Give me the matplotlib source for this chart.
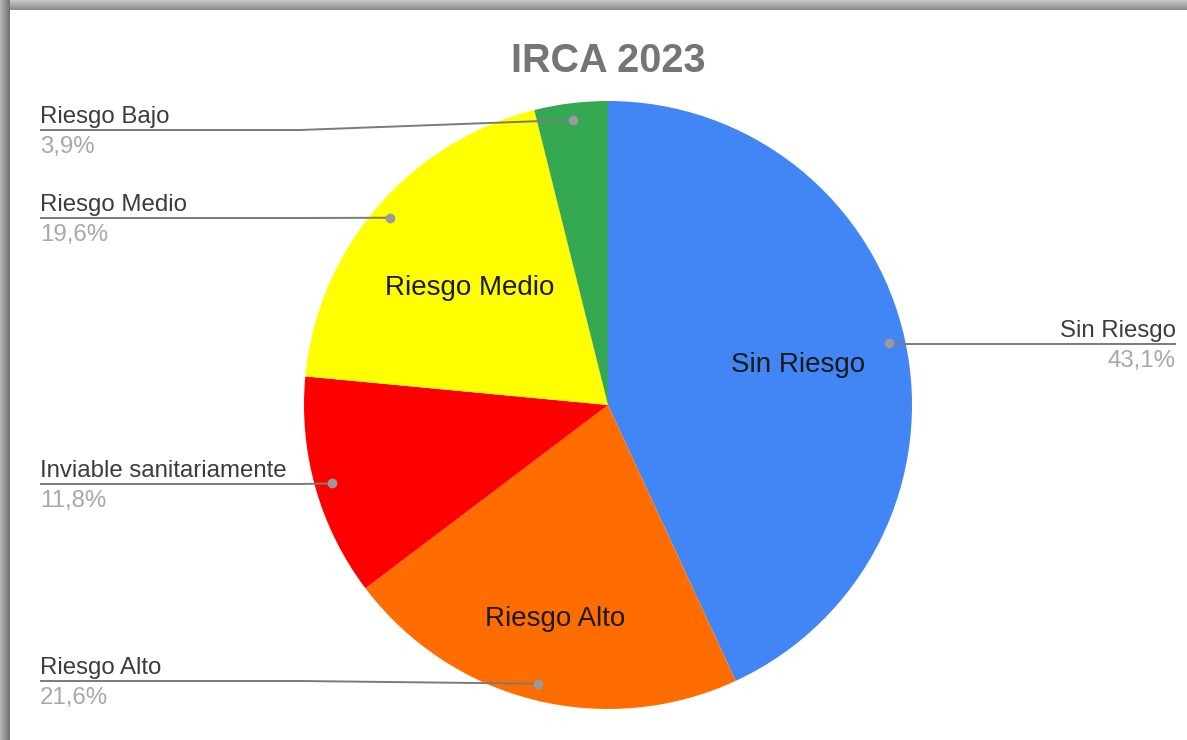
import numpy as np
from matplotlib import pyplot as plt

plt.rcParams['font.family'] = ['Liberation Sans', 'DejaVu Sans']

categories = ['Sin Riesgo', 'Riesgo Alto', 'Inviable sanitariamente', 'Riesgo Medio', 'Riesgo Bajo']
values = [43.1, 21.6, 11.8, 19.6, 3.9]
pct_labels = ['43,1%', '21,6%', '11,8%', '19,6%', '3,9%']
colors = ['#4285f4', '#ff6d01', '#ff0000', '#ffff00', '#34a853']
inner_shown = [True, True, False, True, False]

W, H = 1187, 740
cx, cy, r = 608, H - 405, 304

fig = plt.figure(figsize=(W / 100, H / 100), dpi=100)
fig.patch.set_facecolor('white')
ax = fig.add_axes([0, 0, 1, 1])

wedges, _ = ax.pie(values, colors=colors, startangle=90, counterclock=False,
                   center=(cx, cy), radius=r,
                   wedgeprops=dict(linewidth=0))
ax.set_xlim(0, W)
ax.set_ylim(0, H)
ax.set_aspect('equal')
ax.axis('off')

# layout of the outside labels: side, line y (image px), elbow x
label_side = ['right', 'left', 'left', 'left', 'left']
label_line_y = [344, 681, 484, 218, 130]
label_elbow_x = [900, 300, 300, 300, 300]
inner_frac = [0.64, 0.72, 0.6, 0.6, 0.6]

for i, w in enumerate(wedges):
    mid = np.deg2rad((w.theta1 + w.theta2) / 2)
    dx, dy = np.cos(mid), np.sin(mid)
    px, py = cx + 0.945 * r * dx, cy + 0.945 * r * dy
    ly = H - label_line_y[i]
    if label_side[i] == 'left':
        tx, ha = 40, 'left'
    else:
        tx, ha = 1176, 'right'
    ax.plot([tx, label_elbow_x[i], px], [ly, ly, py], color='#7a7a7a', lw=1.4,
            solid_capstyle='butt', zorder=3)
    ax.plot(px, py, 'o', color='#9a9a9a', ms=6, zorder=4)
    ax.text(tx, ly + 7, categories[i], ha=ha, va='baseline', fontsize=17.3, color='#3c3c3c')
    ax.text(tx, ly - 23, pct_labels[i], ha=ha, va='baseline', fontsize=17.3, color='#a8a8a8')
    if inner_shown[i]:
        f = inner_frac[i]
        ax.text(cx + f * r * dx, cy + f * r * dy - 2, categories[i], ha='center', va='center',
                fontsize=20, color='#1a1a1a')

ax.text(608, H - 72, 'IRCA 2023', ha='center', va='baseline', fontsize=28.5,
        fontweight='bold', color='#757575')

# screenshot frame on top and left
top = np.linspace(0.78, 0.55, 20).reshape(-1, 1)
ax.imshow(np.repeat(top, 2, axis=1), cmap='gray', vmin=0, vmax=1, aspect='auto',
          extent=(0, W, H - 10, H), zorder=5, interpolation='bilinear')
left = np.linspace(0.72, 0.45, 20).reshape(1, -1)
ax.imshow(np.repeat(left, 2, axis=0), cmap='gray', vmin=0, vmax=1, aspect='auto',
          extent=(0, 10, 0, H), zorder=5, interpolation='bilinear')
ax.set_xlim(0, W)
ax.set_ylim(0, H)

fig.savefig('out.png', dpi=100)
